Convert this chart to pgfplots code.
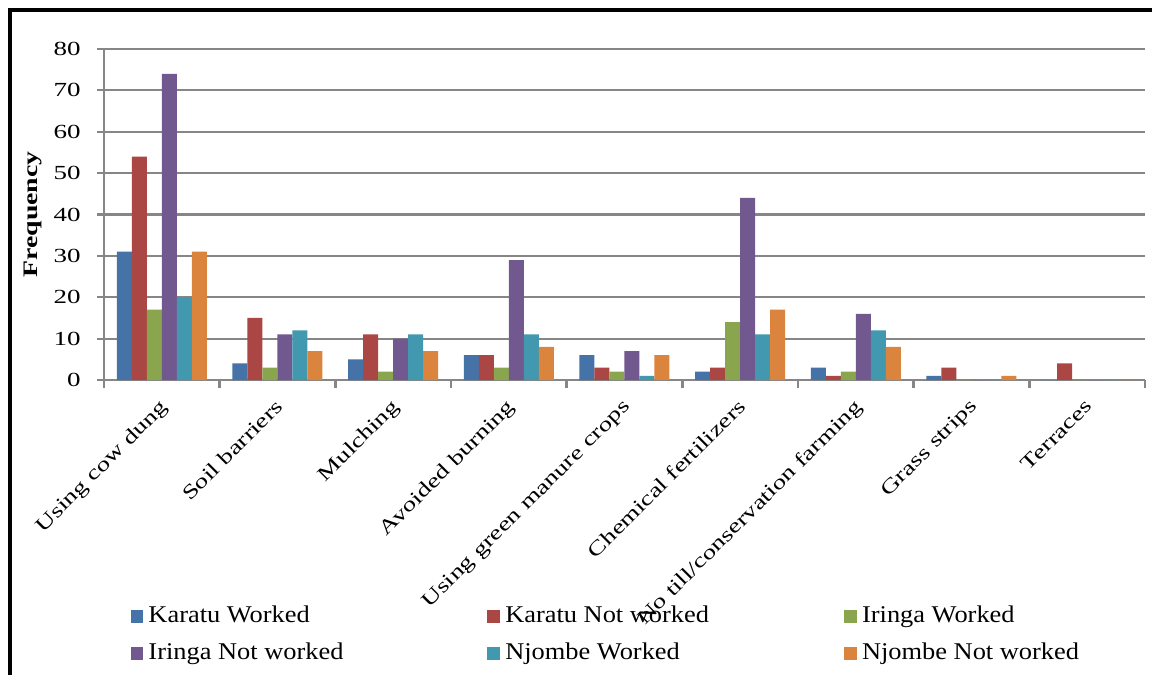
\documentclass[border=0pt]{standalone}
\usepackage{fontspec}
\setmainfont[FakeStretch=1.35]{Liberation Serif}
\newfontfamily\legfont[FakeStretch=1.1]{Liberation Serif}
\usepackage{pgfplots}
\pgfplotsset{compat=1.18}
\definecolor{cA}{HTML}{4572A7}
\definecolor{cB}{HTML}{AA4643}
\definecolor{cC}{HTML}{89A54E}
\definecolor{cD}{HTML}{71588F}
\definecolor{cE}{HTML}{4198AF}
\definecolor{cF}{HTML}{DB843D}
\definecolor{gridc}{HTML}{868686}
\begin{document}
\begin{tikzpicture}
\path[use as bounding box] (0,0) rectangle (576pt,337.5pt);
\draw[black,line width=2pt] (4pt,332.25pt) -- (576pt,332.25pt);
\draw[black,line width=2pt] (5pt,0pt) -- (5pt,333.25pt);
\begin{axis}[
  at={(52pt,147.5pt)}, anchor=south west,
  scale only axis, width=520.5pt, height=165.5pt,
  ybar=0pt, bar width=7.5pt,
  xmin=-0.5, xmax=8.5, ymin=0, ymax=80,
  enlarge x limits=false,
  axis x line*=bottom, axis y line*=left,
  axis line style={gridc, line width=1.2pt, -},
  ytick={0,10,...,80},
  ymajorgrids, grid style={gridc, line width=1.1pt},
  xtick={0,...,8},
  xticklabels={Using cow dung, Soil barriers, Mulching, Avoided burning, Using green manure crops, Chemical fertilizers, No till/conservation farming, Grass strips, Terraces},
  minor xtick={-0.5,0.5,...,8.5},
  tick align=outside,
  major x tick style={draw=none},
  minor x tick style={gridc, line width=1.2pt},
  major y tick style={gridc, line width=1.1pt},
  major tick length=3.5pt, minor tick length=4pt,
  /pgf/number format/assume math mode=true,
  yticklabel style={inner sep=0pt, xshift=-8pt, font=\fontsize{10}{12}\selectfont},
  xticklabel style={xshift=-1.6pt, yshift=-5.3pt, rotate=45, anchor=north east, inner sep=0pt, font=\fontsize{10}{12}\selectfont},
  ylabel={\textbf{Frequency}},
  ylabel style={at={(axis description cs:-0.068,0.5)}, anchor=center, font=\fontsize{10.3}{12}\selectfont},
  legend columns=3,
  legend style={at={(axis description cs:0.0195,-0.668)}, anchor=north west, draw=none, fill=none,
    font=\legfont\fontsize{12}{14}\selectfont,
    nodes={inner sep=0pt, text height=8.5pt, text depth=2.5pt},
    row sep=7.5pt,
    /tikz/every even column/.append style={column sep=0pt},
    /tikz/every odd column/.append style={column sep=2.5pt}},
  legend cell align=left,
  legend image code/.code={\fill[#1] (0pt,-3.2pt) rectangle (6.4pt,3.2pt);},
]
\addplot[fill=cA, draw=none] coordinates {(0,31) (1,4) (2,5) (3,6) (4,6) (5,2) (6,3) (7,1) (8,0)};
\addplot[fill=cB, draw=none] coordinates {(0,54) (1,15) (2,11) (3,6) (4,3) (5,3) (6,1) (7,3) (8,4)};
\addplot[fill=cC, draw=none] coordinates {(0,17) (1,3) (2,2) (3,3) (4,2) (5,14) (6,2) (7,0) (8,0)};
\addplot[fill=cD, draw=none] coordinates {(0,74) (1,11) (2,10) (3,29) (4,7) (5,44) (6,16) (7,0) (8,0)};
\addplot[fill=cE, draw=none] coordinates {(0,20) (1,12) (2,11) (3,11) (4,1) (5,11) (6,12) (7,0) (8,0)};
\addplot[fill=cF, draw=none] coordinates {(0,31) (1,7) (2,7) (3,8) (4,6) (5,17) (6,8) (7,1) (8,0)};
\legend{\makebox[169.5pt][l]{Karatu Worked}, \makebox[169.5pt][l]{Karatu Not worked}, \makebox[169.5pt][l]{Iringa Worked}, \makebox[169.5pt][l]{Iringa Not worked}, \makebox[169.5pt][l]{Njombe Worked}, \makebox[169.5pt][l]{Njombe Not worked}}
\end{axis}
\end{tikzpicture}
\end{document}
